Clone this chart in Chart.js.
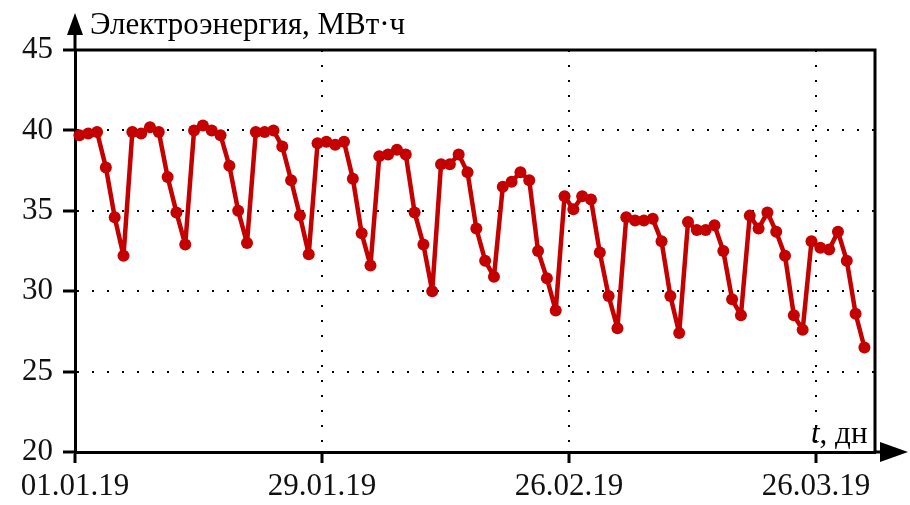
<!DOCTYPE html>
<html>
<head>
<meta charset="utf-8">
<script src="https://cdn.jsdelivr.net/npm/chart.js@4.4.1/dist/chart.umd.min.js"></script>
<style>
  html, body { margin: 0; padding: 0; background: #fff; }
  #wrap { width: 910px; height: 505px; }
</style>
</head>
<body>
<div id="wrap"><canvas id="myLine" width="910" height="505"></canvas></div>
<script>
// daily electricity consumption, MWh, 01.01.19 .. 31.03.19
var energy = [
  39.7, 39.8, 39.9, 37.7, 34.6, 32.2, 39.9, 39.8, 40.2, 39.9,
  37.1, 34.9, 32.9, 40.0, 40.3, 40.0, 39.7, 37.8, 35.0, 33.0,
  39.9, 39.9, 40.0, 39.0, 36.9, 34.7, 32.3, 39.2, 39.3, 39.1,
  39.3, 37.0, 33.6, 31.6, 38.4, 38.5, 38.8, 38.5, 34.9, 32.9,
  30.0, 37.9, 37.9, 38.5, 37.4, 33.9, 31.9, 30.9, 36.5, 36.8,
  37.4, 36.9, 32.5, 30.8, 28.8, 35.9, 35.1, 35.9, 35.7, 32.4,
  29.7, 27.7, 34.6, 34.4, 34.4, 34.5, 33.1, 29.7, 27.4, 34.3,
  33.8, 33.8, 34.1, 32.5, 29.5, 28.5, 34.7, 33.9, 34.9, 33.7,
  32.2, 28.5, 27.6, 33.1, 32.7, 32.6, 33.7, 31.9, 28.6, 26.5
];
var tickDays = [0, 28, 56, 84];
var tickLabels = ["01.01.19", "29.01.19", "26.02.19", "26.03.19"];
var yTitle = "Электроэнергия, МВт·ч";
var xTitle = "дн";

var serif = "'Liberation Serif', 'Times New Roman', serif";

var axesDeco = {
  id: "axesDeco",
  afterDraw: function (chart) {
    var c = chart.ctx, a = chart.chartArea;
    c.save();
    c.strokeStyle = "#000";
    c.fillStyle = "#000";
    c.lineWidth = 3;
    // frame top + right
    c.beginPath();
    c.moveTo(a.left, a.top);
    c.lineTo(a.right, a.top);
    c.lineTo(a.right, a.bottom);
    c.stroke();
    // y axis arrow
    c.beginPath();
    c.moveTo(a.left, a.top);
    c.lineTo(a.left, a.top - 18);
    c.stroke();
    c.beginPath();
    c.moveTo(a.left, a.top - 37);
    c.lineTo(a.left - 8, a.top - 15);
    c.lineTo(a.left + 8, a.top - 15);
    c.closePath();
    c.fill();
    // x axis arrow
    c.beginPath();
    c.moveTo(a.right, a.bottom);
    c.lineTo(a.right + 8, a.bottom);
    c.stroke();
    c.beginPath();
    c.moveTo(a.right + 33, a.bottom);
    c.lineTo(a.right + 5, a.bottom - 10);
    c.lineTo(a.right + 5, a.bottom + 10);
    c.closePath();
    c.fill();
    // titles
    c.textBaseline = "alphabetic";
    c.font = "31px " + serif;
    c.textAlign = "left";
    c.fillText(yTitle, a.left + 15, a.top - 16);
    c.font = "italic 31px " + serif;
    var tw = c.measureText("t").width;
    c.fillText("t", a.right - 64, a.bottom - 9);
    c.font = "31px " + serif;
    c.fillText(", " + xTitle, a.right - 64 + tw, a.bottom - 9);
    c.restore();
  }
};

var myLineChart = new Chart(document.getElementById("myLine"), {
  type: "line",
  data: {
    datasets: [{
      label: yTitle,
      data: energy.map(function (v, i) { return { x: i + 0.5, y: v }; }),
      borderColor: "#c40000",
      backgroundColor: "#c40000",
      borderWidth: 4.5,
      borderJoinStyle: "round",
      borderCapStyle: "round",
      pointRadius: 6,
      pointBorderWidth: 0,
      tension: 0,
      fill: false
    }]
  },
  options: {
    responsive: false,
    animation: false,
    clip: false,
    layout: { padding: { top: 50, right: 35, left: 0, bottom: 0 } },
    plugins: { legend: { display: false }, tooltip: { enabled: false } },
    scales: {
      x: {
        type: "linear",
        min: 0,
        max: 90.7,
        afterBuildTicks: function (scale) {
          scale.ticks = tickDays.map(function (d) { return { value: d }; });
        },
        afterFit: function (scale) { scale.height = 53; },
        ticks: {
          autoSkip: false,
          maxRotation: 0,
          padding: 5,
          color: "#111",
          font: { family: serif, size: 31 },
          callback: function (v) { return tickLabels[tickDays.indexOf(v)]; }
        },
        grid: {
          color: function (ctx) { return ctx.tick && ctx.tick.value === 0 ? "rgba(0,0,0,0)" : "#000"; },
          lineWidth: 2,
          tickColor: "#000",
          tickWidth: 3,
          tickLength: 11
        },
        border: { color: "#000", width: 3, dash: [2, 13] }
      },
      y: {
        min: 20,
        max: 45,
        afterFit: function (scale) { scale.width = 75; },
        ticks: {
          stepSize: 5,
          padding: 10,
          color: "#111",
          font: { family: serif, size: 31 }
        },
        grid: {
          color: function (ctx) {
            var v = ctx.tick && ctx.tick.value;
            return (v === 20 || v === 45) ? "rgba(0,0,0,0)" : "#000";
          },
          lineWidth: 2,
          tickColor: "#000",
          tickWidth: 3,
          tickLength: 12
        },
        border: { color: "#000", width: 3, dash: [2, 13] }
      }
    }
  },
  plugins: [axesDeco]
});
</script>
</body>
</html>
